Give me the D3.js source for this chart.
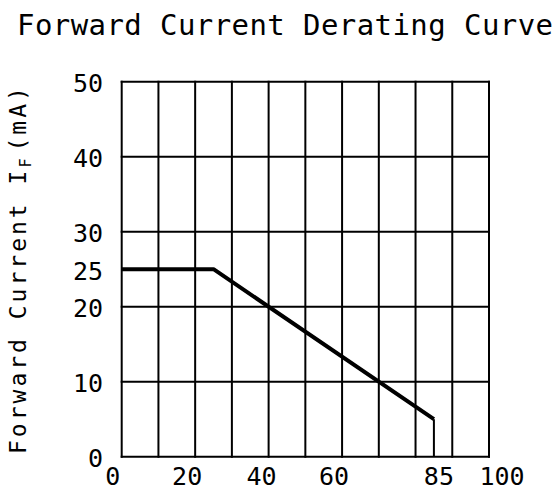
<!DOCTYPE html>
<html>
<head>
<meta charset="utf-8">
<script src="https://cdn.jsdelivr.net/npm/d3@7"></script>
<style>
  html, body { margin: 0; padding: 0; background: #fff; }
  svg { display: block; }
  text { font-family: "DejaVu Sans Mono", "Liberation Mono", monospace; fill: #000; }
</style>
</head>
<body>
<script>
// ---- data ----
const curveX = [0, 25, 85];
const curveY = [25, 25, 5];
const dropX = [85, 85];
const dropY = [5, 0];
const xGrid = [0, 10, 20, 30, 40, 50, 60, 70, 80, 90, 100];
const yGrid = [0, 10, 20, 30, 40, 50];
const xTickLabels = ["0", "20", "40", "60", "85", "100"];
const yTickLabels = ["0", "10", "20", "25", "30", "40", "50"];
const titleText = "Forward Current Derating Curve";

// ---- layout ----
const W = 559, H = 491;
const svg = d3.select("body").append("svg").attr("width", W).attr("height", H);

const x = d3.scaleLinear().domain([0, 100]).range([121.7, 489]);
const y = d3.scaleLinear().domain([0, 50]).range([456.7, 81.7]);

// grid
svg.append("g").selectAll("line").data(xGrid).join("line")
  .attr("x1", d => x(d)).attr("x2", d => x(d))
  .attr("y1", y(0)).attr("y2", y(50))
  .attr("stroke", "#000").attr("stroke-width", 2).attr("stroke-linecap", "square");
svg.append("g").selectAll("line").data(yGrid).join("line")
  .attr("y1", d => y(d)).attr("y2", d => y(d))
  .attr("x1", x(0)).attr("x2", x(100))
  .attr("stroke", "#000").attr("stroke-width", 2).attr("stroke-linecap", "square");

// curve
const line = d3.line().x(d => x(d[0])).y(d => y(d[1]));
svg.append("path")
  .attr("d", line(curveX.map((v, i) => [v, curveY[i]])))
  .attr("fill", "none").attr("stroke", "#000").attr("stroke-width", 4)
  .attr("stroke-linejoin", "round");
svg.append("path")
  .attr("d", line(dropX.map((v, i) => [v, dropY[i]])))
  .attr("fill", "none").attr("stroke", "#000").attr("stroke-width", 2);

// x tick labels
const xNudge = { "0": -9, "20": -8, "40": -7, "60": -8, "85": 5, "100": 13 };
svg.append("g").selectAll("text").data(xTickLabels).join("text")
  .attr("x", d => x(+d) + xNudge[d])
  .attr("y", 485)
  .attr("text-anchor", "middle")
  .attr("font-size", 25)
  .text(d => d);

// y tick labels
svg.append("g").selectAll("text").data(yTickLabels).join("text")
  .attr("x", 103)
  .attr("y", d => y(+d))
  .attr("dy", "0.42em")
  .attr("text-anchor", "end")
  .attr("font-size", 25)
  .text(d => d);

// title
svg.append("text")
  .attr("x", 17).attr("y", 35)
  .attr("font-size", 29)
  .attr("textLength", 536)
  .attr("lengthAdjust", "spacing")
  .text(titleText);

// y axis label
const yl = svg.append("text")
  .attr("transform", "translate(26,454) rotate(-90)")
  .attr("font-size", 23)
  .attr("letter-spacing", 3);
yl.append("tspan").text("Forward Current I");
yl.append("tspan").attr("font-size", 15).attr("dy", 5).text("F");
yl.append("tspan").attr("dy", -5).attr("dx", 4).text("(mA)");
</script>
</body>
</html>
